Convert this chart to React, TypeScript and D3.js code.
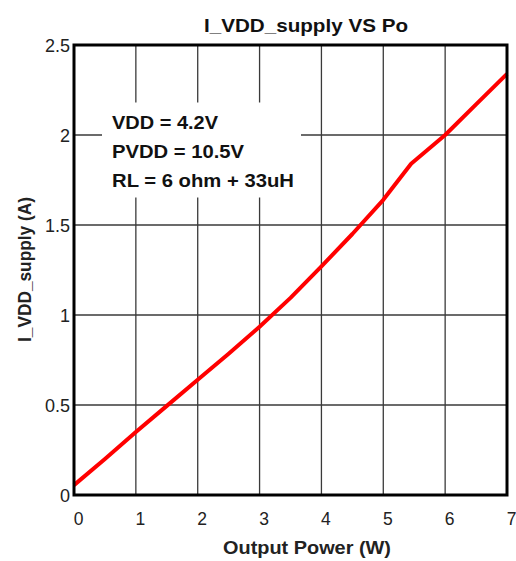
import React, { useRef, useEffect } from 'react';
import * as d3 from 'd3';

// Output power (W) and supply current (A)
const powerW = [0, 0.5, 1, 1.5, 2, 2.5, 3, 3.5, 4, 4.5, 5, 5.45, 6, 6.5, 7];
const currentA = [0.055, 0.2, 0.35, 0.495, 0.64, 0.785, 0.935, 1.095, 1.27, 1.45, 1.64, 1.84, 2.0, 2.17, 2.34];

const xTicks = [0, 1, 2, 3, 4, 5, 6, 7];
const yTicks = [0, 0.5, 1, 1.5, 2, 2.5];
const noteLines = ['VDD = 4.2V', 'PVDD = 10.5V', 'RL = 6 ohm + 33uH'];
const noteWidths = [106, 132, 182];

const WIDTH = 516;
const HEIGHT = 561;
const FONT = 'Arial, "Liberation Sans", Helvetica, sans-serif';

const SupplyChart = () => {
  const chartRef = useRef<SVGSVGElement | null>(null);

  useEffect(() => {
    const svg = d3.select(chartRef.current);
    svg.selectAll('*').remove();
    svg.attr('width', WIDTH).attr('height', HEIGHT);

    const x = d3.scaleLinear().domain([0, 7]).range([74, 507]);
    const y = d3.scaleLinear().domain([0, 2.5]).range([495, 45]);

    svg.append('rect').attr('width', WIDTH).attr('height', HEIGHT).attr('fill', '#fff');

    // grid
    const grid = svg.append('g').attr('stroke', '#3a3a3a').attr('stroke-width', 1.3);
    xTicks.slice(1, -1).forEach((t) => {
      grid.append('line')
        .attr('x1', x(t)).attr('x2', x(t))
        .attr('y1', y(0)).attr('y2', y(2.5));
    });
    yTicks.slice(1, -1).forEach((t) => {
      grid.append('line')
        .attr('x1', x(0)).attr('x2', x(7))
        .attr('y1', y(t)).attr('y2', y(t));
    });

    // white box behind the notes
    svg.append('rect')
      .attr('x', 102).attr('y', 102.5)
      .attr('width', 199).attr('height', 95)
      .attr('fill', '#fff');

    // curve
    const line = d3.line<number>()
      .x((d, i) => x(powerW[i]))
      .y((d) => y(d));

    svg.append('path')
      .datum(currentA)
      .attr('d', line)
      .attr('fill', 'none')
      .attr('stroke', '#ff0000')
      .attr('stroke-width', 4)
      .attr('stroke-linejoin', 'round');

    // frame
    svg.append('rect')
      .attr('x', x(0)).attr('y', y(2.5))
      .attr('width', x(7) - x(0)).attr('height', y(0) - y(2.5))
      .attr('fill', 'none')
      .attr('stroke', '#000')
      .attr('stroke-width', 3);

    // tick labels
    svg.append('g').selectAll('text')
      .data(yTicks)
      .join('text')
      .attr('x', 70)
      .attr('y', (d) => y(d) + 7)
      .attr('text-anchor', 'end')
      .attr('font-family', FONT)
      .attr('font-size', 18)
      .attr('fill', '#222')
      .text((d) => String(d));

    svg.append('g').selectAll('text')
      .data(xTicks)
      .join('text')
      .attr('x', (d) => x(d) + 4.5)
      .attr('y', 525)
      .attr('text-anchor', 'middle')
      .attr('font-family', FONT)
      .attr('font-size', 17.5)
      .attr('fill', '#222')
      .text((d) => String(d));

    // title and axis titles
    svg.append('text')
      .attr('x', 204).attr('y', 32)
      .attr('textLength', 204)
      .attr('lengthAdjust', 'spacingAndGlyphs')
      .attr('font-family', FONT)
      .attr('font-weight', 'bold')
      .attr('font-size', 19)
      .attr('fill', '#111')
      .text('I_VDD_supply VS Po');

    svg.append('text')
      .attr('x', 223).attr('y', 554)
      .attr('textLength', 168)
      .attr('lengthAdjust', 'spacingAndGlyphs')
      .attr('font-family', FONT)
      .attr('font-weight', 'bold')
      .attr('font-size', 17.5)
      .attr('fill', '#222')
      .text('Output Power (W)');

    svg.append('text')
      .attr('transform', 'translate(31,342) rotate(-90)')
      .attr('textLength', 145)
      .attr('lengthAdjust', 'spacingAndGlyphs')
      .attr('font-family', FONT)
      .attr('font-weight', 'bold')
      .attr('font-size', 18)
      .attr('fill', '#222')
      .text('I_VDD_supply (A)');

    // notes
    noteLines.forEach((t, i) => {
      svg.append('text')
        .attr('x', 112).attr('y', 128.5 + i * 29)
        .attr('textLength', noteWidths[i])
        .attr('lengthAdjust', 'spacingAndGlyphs')
        .attr('font-family', FONT)
        .attr('font-weight', 'bold')
        .attr('font-size', 18.5)
        .attr('fill', '#111')
        .text(t);
    });
  }, []);

  return <svg ref={chartRef} style={{ display: 'block' }}></svg>;
};

export default function App() {
  return (
    <div style={{ position: 'absolute', left: 0, top: 0 }}>
      <SupplyChart />
    </div>
  );
}
